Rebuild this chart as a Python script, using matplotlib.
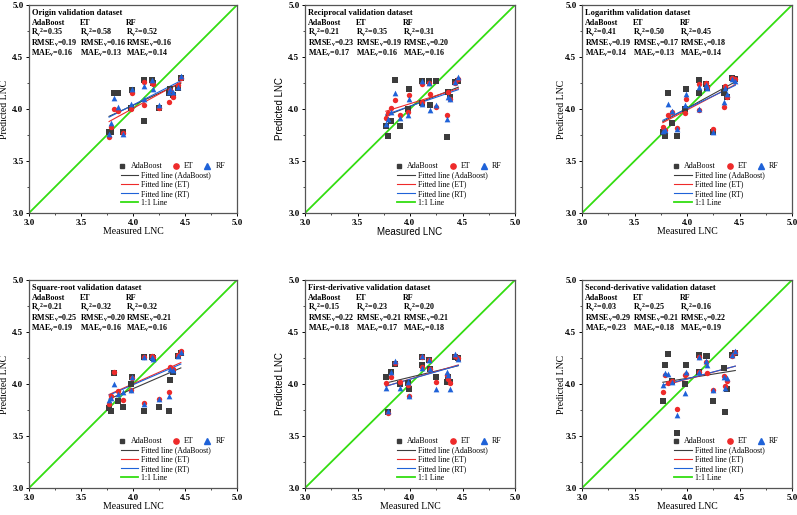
import numpy as np
import matplotlib
matplotlib.use('Agg')
import matplotlib.pyplot as plt
from matplotlib.lines import Line2D

plt.rcParams['font.family'] = ['Liberation Serif', 'DejaVu Serif']
plt.rcParams['mathtext.fontset'] = 'custom'
plt.rcParams['mathtext.rm'] = 'Liberation Serif:bold'
plt.rcParams['mathtext.it'] = 'Liberation Serif:bold'
plt.rcParams['mathtext.bf'] = 'Liberation Serif:bold'

# measured LNC (shared by all datasets)
measured = [3.77, 3.79, 3.82, 3.86, 3.90, 3.98, 3.99, 4.11, 4.11, 4.18, 4.19,
            4.25, 4.35, 4.36, 4.38, 4.43, 4.46]

titles = ["Origin validation dataset", "Reciprocal validation dataset",
          "Logarithm validation dataset", "Square-root validation dataset",
          "First-derivative validation dataset", "Second-derivative validation dataset"]

ada_pred = [
    [3.78, 3.78, 4.15, 4.15, 3.78, 4.01, 4.18, 4.28, 3.88, 4.28, 4.25, 4.01, 4.15, 4.19, 4.13, 4.20, 4.30],
    [3.84, 3.74, 3.88, 4.28, 3.84, 4.00, 4.19, 4.27, 4.06, 4.27, 4.04, 4.27, 3.73, 4.16, 4.12, 4.26, 4.27],
    [3.78, 3.74, 4.15, 3.87, 3.74, 4.00, 4.19, 4.28, 4.15, 4.24, 4.20, 3.78, 4.15, 4.20, 4.12, 4.30, 4.29],
    [3.77, 3.74, 4.11, 3.84, 3.78, 4.00, 4.07, 4.26, 3.74, 4.26, 4.25, 3.78, 3.74, 4.04, 4.12, 4.27, 4.30],
    [4.07, 3.73, 4.12, 4.19, 4.00, 4.01, 3.95, 4.18, 4.26, 4.23, 4.14, 4.07, 4.02, 4.07, 4.02, 4.26, 4.25],
    [3.84, 4.18, 4.29, 4.03, 3.53, 4.00, 4.18, 4.28, 4.12, 4.27, 4.27, 3.84, 4.15, 3.73, 3.95, 4.28, 4.30],
]
et_pred = [
    [3.73, 3.83, 4.00, 3.98, 3.77, 4.00, 4.15, 4.26, 4.04, 4.25, 4.24, 4.01, 4.07, 4.18, 4.12, 4.23, 4.30],
    [3.91, 3.96, 4.01, 4.09, 3.94, 3.97, 4.13, 4.24, 4.07, 4.25, 4.14, 4.02, 3.94, 4.16, 4.10, 4.25, 4.29],
    [3.83, 3.80, 3.94, 3.97, 3.82, 3.96, 4.10, 4.24, 3.99, 4.25, 4.21, 3.81, 4.02, 4.22, 4.12, 4.30, 4.29],
    [3.81, 3.88, 4.12, 3.93, 3.85, 3.94, 4.06, 4.26, 3.82, 4.27, 4.26, 3.86, 3.92, 4.16, 4.14, 4.28, 4.32],
    [4.01, 3.72, 4.07, 4.20, 4.02, 3.99, 3.88, 4.16, 4.26, 4.23, 4.14, 4.02, 4.09, 4.05, 4.01, 4.27, 4.25],
    [3.92, 4.09, 4.01, 4.03, 3.76, 4.09, 4.10, 4.26, 4.12, 4.21, 4.11, 3.94, 4.08, 3.98, 4.03, 4.27, 4.31],
]
rf_pred = [
    [3.76, 3.87, 4.11, 4.02, 3.76, 4.05, 4.19, 4.22, 4.10, 4.28, 4.19, 4.04, 4.16, 4.19, 4.16, 4.21, 4.32],
    [3.86, 3.90, 3.97, 4.15, 3.91, 3.94, 4.10, 4.27, 4.05, 4.25, 3.99, 4.04, 3.90, 4.12, 4.10, 4.26, 4.31],
    [3.79, 3.80, 4.05, 3.98, 3.81, 4.04, 4.14, 4.21, 4.00, 4.23, 4.20, 3.78, 4.07, 4.20, 4.14, 4.29, 4.27],
    [3.85, 3.87, 4.00, 3.90, 3.92, 3.94, 4.07, 4.26, 3.81, 4.26, 4.24, 3.86, 3.88, 4.14, 4.13, 4.27, 4.31],
    [3.96, 3.74, 4.12, 4.22, 3.96, 4.02, 3.88, 4.15, 4.27, 4.23, 4.14, 3.95, 4.12, 4.09, 3.95, 4.29, 4.24],
    [3.99, 4.11, 4.10, 4.02, 3.70, 3.91, 4.12, 4.26, 4.12, 4.22, 4.18, 3.94, 4.07, 3.96, 4.06, 4.28, 4.32],
]

# stats: (R2, RMSE, MAE) for AdaBoost, ET, RF
stats = [
    [("0.35", "0.19", "0.16"), ("0.58", "0.16", "0.13"), ("0.52", "0.16", "0.14")],
    [("0.21", "0.23", "0.17"), ("0.35", "0.19", "0.16"), ("0.31", "0.20", "0.16")],
    [("0.41", "0.19", "0.14"), ("0.50", "0.17", "0.13"), ("0.45", "0.18", "0.14")],
    [("0.21", "0.25", "0.19"), ("0.32", "0.20", "0.16"), ("0.32", "0.21", "0.16")],
    [("0.15", "0.22", "0.18"), ("0.23", "0.21", "0.17"), ("0.20", "0.21", "0.18")],
    [("0.03", "0.29", "0.23"), ("0.25", "0.21", "0.18"), ("0.16", "0.22", "0.19")],
]
model_names = ["AdaBoost", "ET", "RF"]
line_names = ["Fitted line (AdaBoost)", "Fitted line (ET)", "Fitted line (RT)", "1:1 Line"]

c_ada = '#3c3c3c'
c_et = '#ee2a2a'
c_rf = '#1f62d8'
c_line = '#33dd11'

fig = plt.figure(figsize=(7.97, 5.15), dpi=100)
lefts = [29, 305, 582]
tops = [5, 280]
W, H = 797.0, 515.0

x = np.array(measured)
for i in range(6):
    r, c = divmod(i, 3)
    w = 208 if c == 0 else 210
    ax = fig.add_axes([lefts[c] / W, 1 - (tops[r] + 208) / H, w / W, 208 / H])

    ax.plot([3, 5], [3, 5], color=c_line, lw=1.3, zorder=1)
    xs = np.array([x.min(), x.max()])
    for pred, col in [(ada_pred[i], c_ada), (et_pred[i], c_et), (rf_pred[i], c_rf)]:
        k, b = np.polyfit(x, pred, 1)
        ax.plot(xs, k * xs + b, color=col, lw=0.8, zorder=2)
    ax.scatter(x, ada_pred[i], marker='s', s=13, color=c_ada, zorder=3, linewidths=0)
    ax.scatter(x, et_pred[i], marker='o', s=15, color=c_et, zorder=4, linewidths=0)
    ax.scatter(x, rf_pred[i], marker='^', s=17, color=c_rf, zorder=5, linewidths=0)

    ax.set_xlim(3, 5)
    ax.set_ylim(3, 5)
    ticks = [3.0, 3.5, 4.0, 4.5, 5.0]
    ax.set_xticks(ticks)
    ax.set_yticks(ticks)
    ax.set_xticklabels(["%.1f" % t for t in ticks], fontweight='bold', fontsize=6.5)
    ax.set_yticklabels(["%.1f" % t for t in ticks], fontweight='bold', fontsize=6.5)
    ax.set_xticks(np.arange(3.25, 5, 0.5), minor=True)
    ax.set_yticks(np.arange(3.25, 5, 0.5), minor=True)
    ax.tick_params(which='major', length=2.5, width=0.7, pad=1.5)
    ax.tick_params(which='minor', length=1.5, width=0.5)
    for sp in ax.spines.values():
        sp.set_linewidth(0.9)
        sp.set_color('#555555')

    yfam = ['Liberation Sans'] if i in (1, 4) else ['Liberation Serif']
    xfam = ['Liberation Sans'] if i == 1 else ['Liberation Serif']
    ax.set_ylabel("Predicted LNC", fontsize=7, family=yfam)
    ax.set_xlabel("Measured LNC", fontsize=7, family=xfam)
    ax.yaxis.set_label_coords(-0.075 if c == 2 else -0.095, 0.5)
    ax.xaxis.set_label_coords(0.5, -0.066)

    # header text
    ax.text(0.015, 0.963, titles[i], transform=ax.transAxes, fontsize=6, fontweight='bold', va='center')
    colx = [0.012, 0.243, 0.468]
    for j, name in enumerate(model_names):
        r2, rmse, mae = stats[i][j]
        ax.text(colx[j], 0.912, name, transform=ax.transAxes, fontsize=5.8, fontweight='bold', va='center')
        ax.text(colx[j], 0.864, r"R$_\mathrm{v}$$^\mathrm{2}$=" + r2, transform=ax.transAxes,
                fontsize=5.8, fontweight='bold', va='center')
        ax.text(colx[j], 0.815, r"RMSE$_\mathrm{v}$=" + rmse, transform=ax.transAxes,
                fontsize=5.8, fontweight='bold', va='center')
        ax.text(colx[j], 0.765, r"MAE$_\mathrm{v}$=" + mae, transform=ax.transAxes,
                fontsize=5.8, fontweight='bold', va='center')

    # legends
    mh = [Line2D([], [], marker='s', ls='', color=c_ada, ms=3.4),
          Line2D([], [], marker='o', ls='', color=c_et, ms=3.8),
          Line2D([], [], marker='^', ls='', color=c_rf, ms=4.0)]
    leg1 = ax.legend(mh, model_names, ncol=3, loc='center left', bbox_to_anchor=(0.43, 0.224),
                     frameon=False, fontsize=5.8, handlelength=1.0, handletextpad=0.5,
                     columnspacing=1.2, borderpad=0, borderaxespad=0)
    ax.add_artist(leg1)
    lh = [Line2D([], [], color=c_ada, lw=0.8), Line2D([], [], color=c_et, lw=0.8),
          Line2D([], [], color=c_rf, lw=0.8), Line2D([], [], color=c_line, lw=1.3)]
    ax.legend(lh, line_names, loc='upper left', bbox_to_anchor=(0.44, 0.2), frameon=False,
              fontsize=5.6, handlelength=2.2, handletextpad=0.4, labelspacing=0.15,
              borderpad=0, borderaxespad=0)

fig.savefig('out.png', dpi=100)
